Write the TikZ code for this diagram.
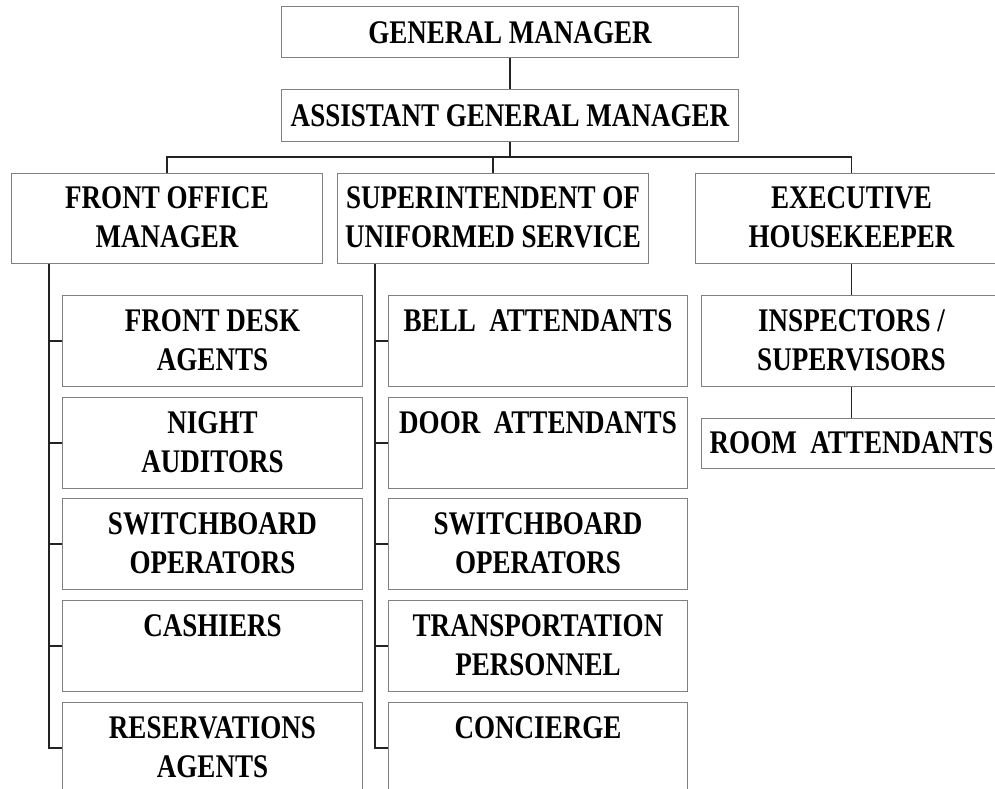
\documentclass[tikz,border=0pt]{standalone}
\usepackage{fontspec}
\newfontfamily\orgfont{Liberation Serif}[FakeStretch=0.82]
\definecolor{boxgray}{RGB}{128,128,128}
\definecolor{conncol}{RGB}{35,35,35}
\begin{document}
\begin{tikzpicture}[x=1pt,y=-1pt,
  box/.style={draw=boxgray, line width=1pt, anchor=north west, align=flush center,
    inner sep=0pt, font=\orgfont\bfseries\fontsize{33}{39}\selectfont},
  headbox/.style={box, text height=35pt, text depth=55pt},
  subbox/.style={box, text height=36pt, text depth=55pt},
  conn/.style={draw=conncol, line width=1.1pt}]
\useasboundingbox (0,0) rectangle (995,788);

% top
\node[box, text width=457pt, text height=37pt, text depth=14pt] (gm) at (281,6) {GENERAL MANAGER};
\node[box, text width=457pt, text height=37pt, text depth=15pt] (agm) at (281,89) {ASSISTANT GENERAL MANAGER};

% heads
\node[headbox, text width=311pt] (fom) at (11,173) {FRONT OFFICE\\MANAGER};
\node[headbox, text width=311pt] (sus) at (337,173) {SUPERINTENDENT OF\\UNIFORMED SERVICE};
\node[headbox, text width=312pt] (eh) at (695,173) {EXECUTIVE\\HOUSEKEEPER};

% left column
\node[subbox, text width=300pt] (fda) at (62,295) {FRONT DESK\\AGENTS};
\node[subbox, text width=300pt] (na) at (62,397) {NIGHT\\AUDITORS};
\node[subbox, text width=300pt] (sbl) at (62,498) {SWITCHBOARD\\OPERATORS};
\node[subbox, text width=300pt] (cash) at (62,600) {CASHIERS};
\node[subbox, text width=300pt] (res) at (62,702) {RESERVATIONS\\AGENTS};

% middle column
\node[subbox, text width=299pt] (bell) at (388,295) {BELL\ \ ATTENDANTS};
\node[subbox, text width=299pt] (door) at (388,397) {DOOR\ \ ATTENDANTS};
\node[subbox, text width=299pt] (sbm) at (388,498) {SWITCHBOARD\\OPERATORS};
\node[subbox, text width=299pt] (trans) at (388,600) {TRANSPORTATION\\PERSONNEL};
\node[subbox, text width=299pt] (conc) at (388,702) {CONCIERGE};

% right column
\node[subbox, text width=300pt] (insp) at (701,295) {INSPECTORS /\\SUPERVISORS};
\node[box, text width=300pt, text height=35pt, text depth=15pt] (room) at (701,418) {ROOM\ \ ATTENDANTS};

% connectors
\draw[conn] (gm) -- (agm);
\draw[conn] (agm.south) -- ++(0,15) coordinate (bus);
\draw[conn] (fom.north) |- (bus) -| (eh.north);
\draw[conn] (sus.north) -- (sus.north |- bus);

\coordinate (lt) at ([xshift=38pt]fom.south west);
\coordinate (mt) at ([xshift=38pt]sus.south west);
\foreach \s in {fda,na,sbl,cash,res} \draw[conn] (\s.west) -| (lt);
\foreach \s in {bell,door,sbm,trans,conc} \draw[conn] (\s.west) -| (mt);

\draw[conn] (eh) -- (insp);
\draw[conn] (insp) -- (room);
\end{tikzpicture}
\end{document}
